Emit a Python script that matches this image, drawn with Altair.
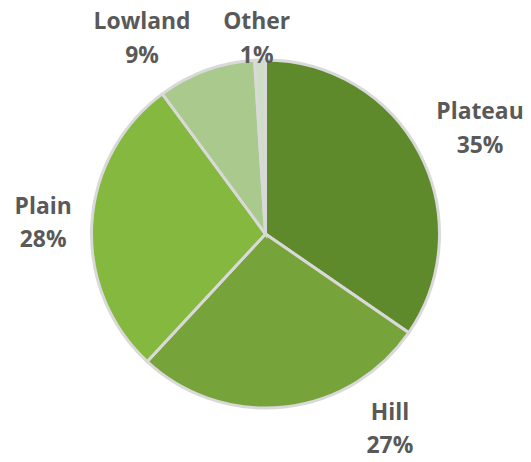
import altair as alt
import pandas as pd

categories = ["Plateau", "Hill", "Plain", "Lowland", "Other"]
values = [34.6, 27.3, 28.0, 9.1, 1.0]
colors = ["#5e8a2c", "#76a33a", "#85b83e", "#a9ca8c", "#cfdfc6"]

df = pd.DataFrame({
    "category": categories,
    "value": values,
    "order": list(range(len(categories))),
    "label": [f"{c}\n{round(v)}%" for c, v in zip(categories, values)],
})

# label nudges (style only)
nudges = {
    "Plateau": (21, -20),
    "Hill": (101, -39),
    "Plain": (-4, -15),
    "Lowland": (-49, -6),
    "Other": (-2, 7),
}

W, H = 518, 452

pie = alt.Chart(df).mark_arc(outerRadius=175, stroke="#d9d9d9", strokeWidth=3).encode(
    theta=alt.Theta("value:Q", stack=True),
    order=alt.Order("order:Q"),
    color=alt.Color("category:N", scale=alt.Scale(domain=categories, range=colors), legend=None),
)

base = alt.Chart(df).transform_window(
    cum="sum(value)", sort=[alt.SortField("order")], frame=[None, 0]
).transform_joinaggregate(
    total="sum(value)"
).transform_calculate(
    mid="(datum.cum - datum.value / 2) / datum.total"
)

layers = [pie]
for c in categories:
    dx, dy = nudges[c]
    layers.append(
        base.transform_filter(alt.datum.category == c).mark_text(
            radius=220, dx=dx, dy=dy, font="Open Sans", fontWeight="bold", fontSize=23,
            color="#595959", lineBreak="\n", lineHeight=34, align="center", baseline="middle",
        ).encode(
            theta=alt.Theta("mid:Q", scale=alt.Scale(domain=[0, 1]), stack=False),
            text="label:N",
        )
    )

chart = alt.layer(*layers).resolve_scale(theta="independent").properties(
    width=W, height=H, padding=0, autosize=alt.AutoSizeParams(type="none")
).configure_view(stroke=None)

chart.save("out.html", embed_options={"renderer": "svg", "actions": False})
